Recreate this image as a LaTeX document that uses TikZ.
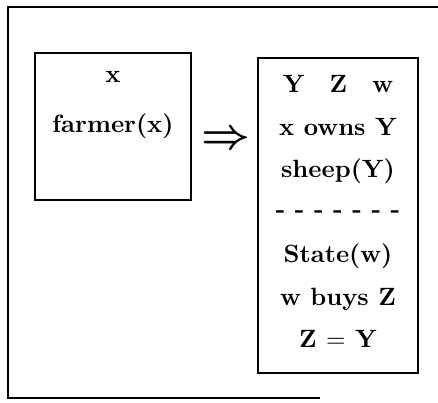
\documentclass[tikz,border=0pt]{standalone}
\usepackage{amsmath,amssymb}
\usepackage{graphicx}
\usepackage{tikz}
\usetikzlibrary{positioning}
\tikzset{
  frame/.style={draw=black, line width=0.9pt},
  drsbox/.style={draw=black, line width=0.9pt, inner sep=0pt},
  cond/.style={font=\bfseries, anchor=base, inner sep=0pt},
  imply/.style={inner sep=0pt},
}
% baselines of the condition lines (pixel rows)
\def\yA{92}
\def\yB{135}
\def\yC{177}
\def\yD{262}
\def\yE{305}
\def\yF{347}
\def\cL{113}
\def\cR{338}

\begin{document}
\begin{tikzpicture}[x=0.4pt,y=-0.4pt]
  \useasboundingbox (0,0) rectangle (438,402);
  \draw[frame] (438,7) -- (8,7) -- (8,398) -- (320,398);
  % antecedent box
  \node[drsbox, minimum width=62.4pt, minimum height=58.8pt] (ante) at (113,126.5) {};
  \node[cond] (ref) at (\cL,82) {x};
  \node[cond] (farmer) at (\cL,132) {farmer(x)};
  % consequent box
  \node[drsbox, minimum width=64pt, minimum height=126pt] (cons) at (338,215.5) {};
  \node[cond] (refs) at (\cR,\yA) {Y\quad Z\quad w};
  \node[cond] (owns) at (\cR,\yB) {x owns Y};
  \node[cond] (sheep) at (\cR,\yC) {sheep(Y)};
  \node[cond] (sep) at (\cR,217) {- - - - - - -};
  \node[cond] (state) at (\cR,\yD) {State(w)};
  \node[cond] (buys) at (\cR,\yE) {w buys Z};
  \node[cond] (eq) at (\cR,\yF) {Z $=$ Y};
  \node[imply] (arrow) at (225.5,140.5) {\scalebox{1.7}{\boldmath$\Rightarrow$}};
\end{tikzpicture}
\end{document}
